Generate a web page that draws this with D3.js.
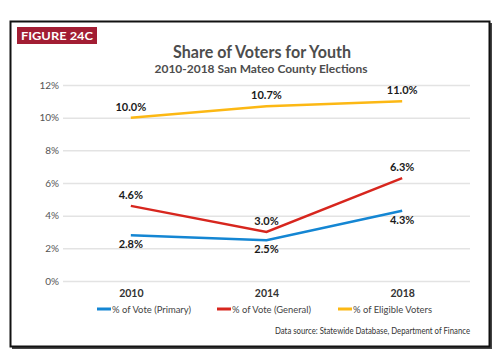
<!DOCTYPE html>
<html>
<head>
<meta charset="utf-8">
<script src="https://cdn.jsdelivr.net/npm/d3@7"></script>
<style>
  body { margin: 0; background: #fff; }
  svg { display: block; font-family: Lato, "Open Sans", sans-serif; }
</style>
</head>
<body>
<div id="chart"></div>
<script>
const years = ['2010', '2014', '2018'];
const primaryVote = [2.8, 2.5, 4.3];
const generalVote = [4.6, 3.0, 6.3];
const eligibleVoters = [10.0, 10.7, 11.0];
const yTicks = [0, 2, 4, 6, 8, 10, 12];

const series = [
    { name: '% of Vote (Primary)', values: primaryVote, color: '#1486d3', labelPos: 'below' },
    { name: '% of Vote (General)', values: generalVote, color: '#d7261e', labelPos: 'above' },
    { name: '% of Eligible Voters', values: eligibleVoters, color: '#fcb814', labelPos: 'above' }
];

const width = 503, height = 362;
const margin = {top: 85, right: 33, bottom: 81, left: 63};

const svg = d3.select('#chart').append('svg')
    .attr('width', width)
    .attr('height', height);

// frame with shadow
svg.append('rect')
    .attr('x', 12).attr('y', 23).attr('width', 480).attr('height', 326)
    .attr('fill', '#444');
svg.append('rect')
    .attr('x', 10.5).attr('y', 21.5).attr('width', 479).attr('height', 325)
    .attr('fill', '#fff').attr('stroke', '#111').attr('stroke-width', 2);

// figure tag
svg.append('rect')
    .attr('x', 17).attr('y', 27).attr('width', 80).attr('height', 17)
    .attr('fill', '#a21d33');
svg.append('text')
    .attr('x', 57).attr('y', 40)
    .attr('text-anchor', 'middle')
    .attr('fill', '#fff')
    .attr('font-size', 12).attr('font-weight', 700)
    .attr('textLength', 72).attr('lengthAdjust', 'spacingAndGlyphs')
    .text('FIGURE 24C');

svg.append('text')
    .attr('x', 262).attr('y', 58)
    .attr('text-anchor', 'middle')
    .attr('fill', '#4d4d4d')
    .attr('font-size', 16.5).attr('font-weight', 700)
    .attr('textLength', 178).attr('lengthAdjust', 'spacingAndGlyphs')
    .text('Share of Voters for Youth');

svg.append('text')
    .attr('x', 261).attr('y', 73)
    .attr('text-anchor', 'middle')
    .attr('fill', '#4d4d4d')
    .attr('font-size', 12).attr('font-weight', 700)
    .attr('textLength', 213).attr('lengthAdjust', 'spacingAndGlyphs')
    .text('2010-2018 San Mateo County Elections');

const innerW = width - margin.left - margin.right;
const innerH = height - margin.top - margin.bottom;

const x = d3.scalePoint().domain(years).range([0, innerW]).padding(0.5);
const y = d3.scaleLinear().domain([0, 12]).range([innerH, 0]);

const g = svg.append('g').attr('transform', `translate(${margin.left},${margin.top})`);

// gridlines + y labels
const yAxis = g.append('g')
    .call(d3.axisLeft(y).tickValues(yTicks).tickSize(-innerW).tickFormat(d => d + '%'));
yAxis.select('.domain').remove();
yAxis.selectAll('.tick line').attr('stroke', '#e3e3e3').attr('stroke-width', 1.5);
yAxis.selectAll('.tick text')
    .attr('x', -4)
    .attr('fill', '#555')
    .attr('font-size', 10)
    .attr('font-family', 'Lato, sans-serif');

// x labels
const xAxis = g.append('g')
    .attr('transform', `translate(0,${innerH})`)
    .call(d3.axisBottom(x).tickSize(0).tickPadding(9));
xAxis.select('.domain').remove();
xAxis.selectAll('.tick text')
    .attr('fill', '#333')
    .attr('font-size', 10.5)
    .attr('font-weight', 700)
    .attr('font-family', 'Lato, sans-serif');

const line = d3.line()
    .x((d, i) => x(years[i]))
    .y(d => y(d));

series.forEach(s => {
    g.append('path')
        .datum(s.values)
        .attr('fill', 'none')
        .attr('stroke', s.color)
        .attr('stroke-width', 2.5)
        .attr('d', line);

    g.selectAll(null)
        .data(s.values)
        .join('text')
        .attr('x', (d, i) => x(years[i]))
        .attr('y', d => s.labelPos === 'above' ? y(d) - 7 : y(d) + 13)
        .attr('text-anchor', 'middle')
        .attr('fill', '#1a1a1a')
        .attr('font-size', 11)
        .attr('font-weight', 700)
        .text(d => d.toFixed(1) + '%');
});

// legend
const legendX = [97, 217, 338];
const legend = svg.append('g').attr('transform', 'translate(0,309)');
series.forEach((s, i) => {
    legend.append('rect')
        .attr('x', legendX[i]).attr('y', -1.5)
        .attr('width', 14).attr('height', 3)
        .attr('fill', s.color);
    legend.append('text')
        .attr('x', legendX[i] + 15).attr('y', 3.5)
        .attr('fill', '#444')
        .attr('font-size', 10)
        .attr('textLength', 79).attr('lengthAdjust', 'spacingAndGlyphs')
        .text(s.name);
});

svg.append('text')
    .attr('x', 470).attr('y', 334)
    .attr('text-anchor', 'end')
    .attr('fill', '#333')
    .attr('font-size', 9)
    .attr('textLength', 195)
    .attr('lengthAdjust', 'spacingAndGlyphs')
    .text('Data source: Statewide Database, Department of Finance');
</script>
</body>
</html>
